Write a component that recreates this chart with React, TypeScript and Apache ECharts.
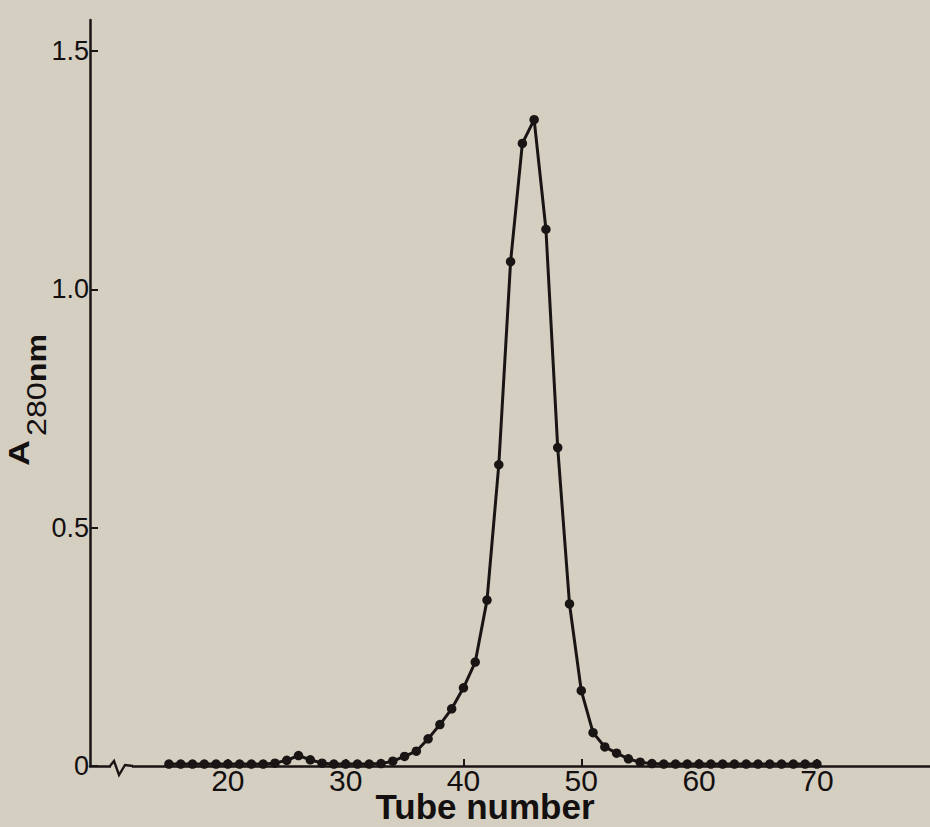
import React, { useEffect, useRef } from "react";
import * as echarts from "echarts";

const tubes = [
  15, 16, 17, 18, 19, 20, 21, 22, 23, 24, 25, 26, 27, 28, 29, 30, 31, 32, 33, 34,
  35, 36, 37, 38, 39, 40, 41, 42, 43, 44, 45, 46, 47, 48, 49, 50, 51, 52, 53, 54,
  55, 56, 57, 58, 59, 60, 61, 62, 63, 64, 65, 66, 67, 68, 69, 70,
];
const absorbance = [
  0.004, 0.004, 0.004, 0.004, 0.004, 0.004, 0.004, 0.004, 0.004, 0.006,
  0.012, 0.022, 0.013, 0.006, 0.004, 0.004, 0.004, 0.004, 0.005, 0.01,
  0.02, 0.031, 0.057, 0.087, 0.12, 0.164, 0.218, 0.348, 0.632, 1.058,
  1.306, 1.356, 1.126, 0.668, 0.34, 0.158, 0.07, 0.04, 0.027, 0.015,
  0.008, 0.005, 0.004, 0.004, 0.004, 0.004, 0.004, 0.004, 0.004, 0.004,
  0.004, 0.004, 0.004, 0.004, 0.004, 0.004,
];
const xTickValues = [20, 30, 40, 50, 60, 70];
const yTickValues = [0, 0.5, 1.0, 1.5];

const BG = "#d5cfc1";
const INK = "#1a1515";

export default function App() {
  const ref = useRef<HTMLDivElement>(null);
  useEffect(() => {
    if (!ref.current) return;
    const chart = echarts.init(ref.current, null, { renderer: "svg" });
    const data = tubes.map((t, i) => [t, absorbance[i]]);
    chart.setOption({
      animation: false,
      backgroundColor: BG,
      grid: { left: 90, right: 0, top: 20, bottom: 61, outerBoundsMode: "none" },
      xAxis: {
        type: "value",
        min: 8.3,
        max: 79.6,
        axisLine: { show: true, lineStyle: { color: INK, width: 2.5 } },
        axisTick: {
          show: true,
          inside: true,
          length: 7,
          customValues: xTickValues,
          lineStyle: { color: INK, width: 2 },
        },
        axisLabel: {
          customValues: xTickValues,
          margin: 3,
          lineHeight: 22,
          color: "#141010",
          fontSize: 30,
          fontFamily: "Liberation Sans Narrow, Liberation Sans, Arial, sans-serif",
        },
        splitLine: { show: false },
      },
      yAxis: {
        type: "value",
        min: 0,
        max: 1.565,
        axisLine: { show: true, lineStyle: { color: INK, width: 2.5 } },
        axisTick: {
          show: true,
          inside: true,
          length: 8,
          customValues: yTickValues,
          lineStyle: { color: INK, width: 2 },
        },
        axisLabel: {
          customValues: yTickValues,
          margin: 1,
          color: "#141010",
          fontSize: 27,
          fontFamily: "Liberation Sans, Arial, sans-serif",
          formatter: (v: number) => (v === 0 ? "0" : v.toFixed(1)),
        },
        splitLine: { show: false },
      },
      series: [
        {
          type: "line",
          data,
          symbol: "circle",
          symbolSize: 9.5,
          showSymbol: true,
          lineStyle: { color: INK, width: 3 },
          itemStyle: { color: INK },
          z: 3,
        },
      ],
      graphic: [
        {
          type: "rect",
          z: 100,
          shape: { x: 111, y: 759, width: 21, height: 17 },
          style: { fill: BG },
        },
        {
          type: "polyline",
          z: 101,
          shape: {
            points: [
              [110, 766],
              [114, 761],
              [119, 775],
              [125, 765],
              [133, 766],
            ],
          },
          style: { stroke: INK, lineWidth: 2.4, fill: "none" },
        },
        {
          type: "text",
          z: 100,
          x: 485,
          y: 806,
          style: {
            text: "Tube number",
            fill: "#141010",
            font: "bold 35px 'Liberation Sans', Arial, sans-serif",
            lineHeight: 26,
            align: "center",
            verticalAlign: "middle",
          },
        },
        {
          type: "text",
          z: 100,
          x: 19,
          y: 453,
          rotation: Math.PI / 2,
          scaleX: 1.2,
          style: {
            text: "A",
            fill: "#141010",
            font: "bold 30px 'Liberation Sans', Arial, sans-serif",
            align: "center",
            verticalAlign: "middle",
          },
        },
        {
          type: "text",
          z: 100,
          x: 36,
          y: 385,
          rotation: Math.PI / 2,
          scaleX: 1.15,
          style: {
            text: "{d|280}{u|nm}",
            align: "center",
            verticalAlign: "middle",
            rich: {
              d: {
                fill: "#141010",
                fontSize: 28,
                fontFamily: "Liberation Sans, Arial, sans-serif",
              },
              u: {
                fill: "#141010",
                fontSize: 28,
                fontWeight: "bold",
                fontFamily: "Liberation Sans, Arial, sans-serif",
              },
            },
          },
        },
      ],
    });
    return () => chart.dispose();
  }, []);
  return (
    <div
      ref={ref}
      style={{ position: "fixed", left: 0, top: 0, width: 930, height: 827 }}
    />
  );
}
